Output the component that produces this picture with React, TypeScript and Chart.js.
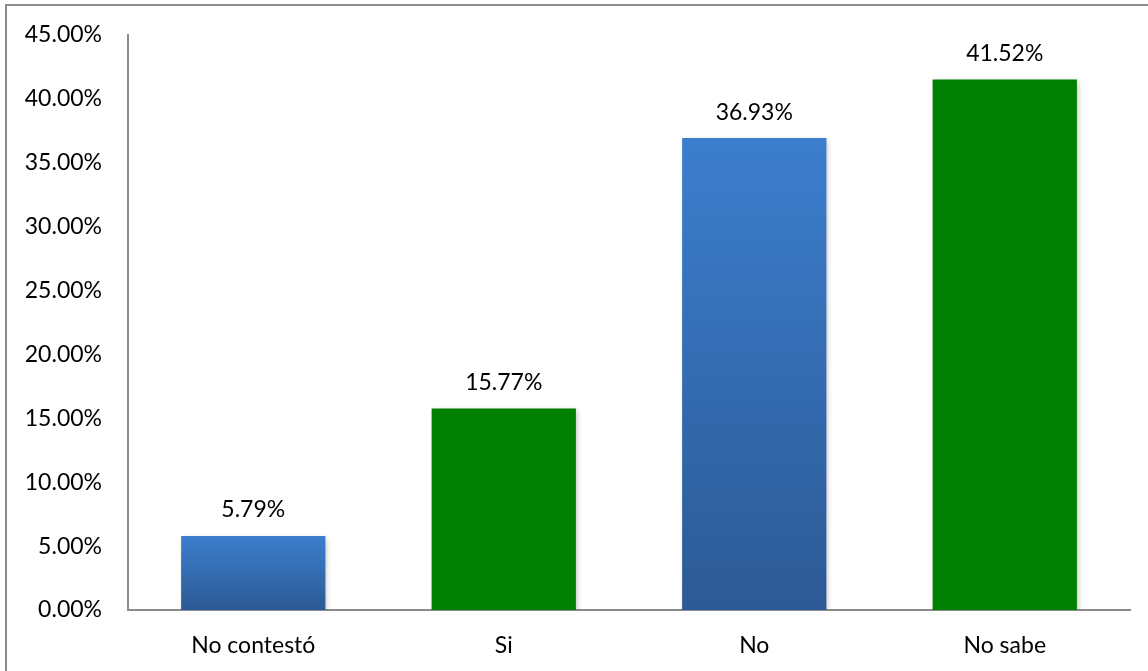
import React, { useEffect, useRef } from "react";
import { Chart, registerables } from "chart.js";

Chart.register(...registerables);

const categories = ["No contestó", "Si", "No", "No sabe"];
const values = [5.79, 15.77, 36.93, 41.52];
const barKinds = ["blue", "green", "blue", "green"];
const yTicksMax = 45;
const yTicksStep = 5;

const FONT = "Lato, 'Open Sans', sans-serif";
const FONT_SIZE = 23;

const shadowPlugin = {
  id: "barShadow",
  beforeDatasetDraw(chart: any) {
    const ctx = chart.ctx;
    ctx.save();
    ctx.shadowColor = "rgba(0,0,0,0.22)";
    ctx.shadowBlur = 5;
    ctx.shadowOffsetX = 2;
    ctx.shadowOffsetY = 2;
  },
  afterDatasetDraw(chart: any) {
    chart.ctx.restore();
  },
};

const labelPlugin = {
  id: "valueLabels",
  afterDatasetsDraw(chart: any) {
    const ctx = chart.ctx;
    const meta = chart.getDatasetMeta(0);
    meta.data.forEach((bar: any, i: number) => {
      ctx.save();
      ctx.font = `${FONT_SIZE}px ${FONT}`;
      ctx.fillStyle = "#000";
      ctx.textAlign = "center";
      ctx.textBaseline = "middle";
      ctx.fillText(values[i].toFixed(2) + "%", bar.x, bar.y - 26);
      ctx.restore();
    });
  },
};

export default function App() {
  const ref = useRef<HTMLCanvasElement | null>(null);

  useEffect(() => {
    document.body.style.margin = "0";
    const canvas = ref.current;
    if (!canvas) return;
    const chart = new Chart(canvas, {
      type: "bar",
      data: {
        labels: categories,
        datasets: [
          {
            data: values,
            backgroundColor: (c: any) => {
              const i = c.dataIndex;
              if (barKinds[i] === "green") return "#008000";
              const chartObj = c.chart;
              const ys = chartObj.scales && chartObj.scales.y;
              if (!ys || !chartObj.chartArea) return "#3570b8";
              const top = ys.getPixelForValue(values[i]);
              const bottom = ys.getPixelForValue(0);
              if (!isFinite(top) || !isFinite(bottom) || top === bottom) return "#3570b8";
              const g = chartObj.ctx.createLinearGradient(0, top, 0, bottom);
              g.addColorStop(0, "#3c7ecd");
              g.addColorStop(1, "#2c5a95");
              return g;
            },
            borderWidth: 0,
            categoryPercentage: 1,
            barPercentage: 0.576,
          },
        ],
      },
      options: {
        animation: false,
        responsive: false,
        events: [],
        layout: { padding: { left: 0, top: 35, right: 18, bottom: 0 } },
        plugins: {
          legend: { display: false },
          tooltip: { enabled: false },
        },
        scales: {
          x: {
            grid: { display: false, drawTicks: false },
            border: { display: true, color: "#8c8c8c", width: 2 },
            ticks: {
              color: "#000",
              font: { family: FONT, size: FONT_SIZE },
              padding: 22,
            },
            afterFit(scale: any) {
              scale.height = 61;
              scale.paddingLeft = 0;
              scale.paddingRight = 0;
            },
          },
          y: {
            min: 0,
            max: yTicksMax,
            grid: { display: false, drawTicks: false },
            border: { display: true, color: "#8c8c8c", width: 2 },
            ticks: {
              stepSize: yTicksStep,
              color: "#000",
              font: { family: FONT, size: FONT_SIZE },
              padding: 26,
              callback: (v: any) => Number(v).toFixed(2) + "%",
            },
            afterFit(scale: any) {
              scale.width = 128;
              scale.paddingTop = 0;
              scale.paddingBottom = 0;
            },
          },
        },
      },
      plugins: [shadowPlugin, labelPlugin],
    });
    return () => chart.destroy();
  }, []);

  return (
    <div style={{ position: "relative", width: 1148, height: 671, overflow: "hidden", background: "#fff" }}>
      <div
        style={{
          position: "absolute",
          left: 5,
          top: 4,
          width: 1160,
          height: 700,
          border: "2px solid #8c8c8c",
          boxSizing: "border-box",
        }}
      />
      <canvas
        ref={ref}
        width={1148}
        height={671}
        style={{ position: "absolute", left: 0, top: 0 }}
      />
    </div>
  );
}
